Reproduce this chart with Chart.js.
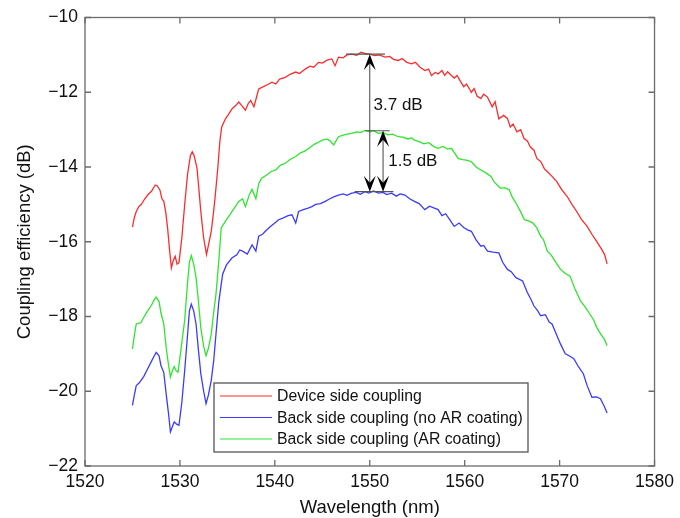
<!DOCTYPE html>
<html>
<head>
<meta charset="utf-8">
<script src="https://cdn.jsdelivr.net/npm/chart.js@4.4.1/dist/chart.umd.min.js"></script>
<style>
    body { margin: 0; background: #fff; }
    #wrap { width: 680px; height: 518px; }
</style>
</head>
<body>
<div id="wrap"><canvas id="coupling-chart" width="680" height="518"></canvas></div>
<script>
// data

var seriesNames = [
    'Device side coupling',
    'Back side coupling (no AR coating)',
    'Back side coupling (AR coating)'
];
var seriesColors = ['#ff2b2b', '#3b3bff', '#2ee62e'];

var redWl = [1525.0, 1525.2, 1525.4, 1525.7, 1525.9, 1526.3, 1526.6, 1527.0, 1527.4, 1527.6, 1527.9, 1528.1, 1528.3, 1528.5, 1528.7, 1528.9, 1529.1, 1529.3, 1529.5, 1529.7, 1529.9, 1530.2, 1530.5, 1530.8, 1531.1, 1531.3, 1531.5, 1531.8, 1532.0, 1532.2, 1532.5, 1532.8, 1533.0, 1533.3, 1533.5, 1533.7, 1534.0, 1534.2, 1534.4, 1534.8, 1535.1, 1535.5, 1535.9, 1536.2, 1536.5, 1536.9, 1537.2, 1537.45, 1537.8, 1538.1, 1538.3, 1538.8, 1539.2, 1539.7, 1540.1, 1540.5, 1541.1, 1541.6, 1542.2, 1542.6, 1543.2, 1543.7, 1544.1, 1544.6, 1545.0, 1545.5, 1546.0, 1546.35, 1546.7, 1547.2, 1547.6, 1548.1, 1548.6, 1549.1, 1549.6, 1550.0, 1550.5, 1551.0, 1551.6, 1552.1, 1552.5, 1553.0, 1553.4, 1553.9, 1554.4, 1554.8, 1555.3, 1555.8, 1556.2, 1556.5, 1556.9, 1557.2, 1557.6, 1557.9, 1558.2, 1558.6, 1558.9, 1559.2, 1559.6, 1559.9, 1560.2, 1560.7, 1561.0, 1561.3, 1561.7, 1562.0, 1562.4, 1562.9, 1563.2, 1563.6, 1564.1, 1564.5, 1564.8, 1565.1, 1565.5, 1565.9, 1566.25, 1566.6, 1566.9, 1567.3, 1567.6, 1568.0, 1568.4, 1568.7, 1569.2, 1569.7, 1570.2, 1570.8, 1571.3, 1571.8, 1572.3, 1572.9, 1573.4, 1573.9, 1574.45, 1574.75, 1575.0];
var redDb = [-15.61, -15.35, -15.19, -15.05, -15.01, -14.85, -14.75, -14.65, -14.48, -14.50, -14.62, -14.85, -14.92, -15.2, -15.63, -16.2, -16.7, -16.5, -16.39, -16.6, -16.56, -15.9, -15.01, -14.2, -13.7, -13.59, -13.7, -14.03, -14.6, -15.19, -15.9, -16.34, -16.1, -15.72, -15.3, -14.83, -14.0, -13.33, -12.93, -12.71, -12.6, -12.44, -12.35, -12.26, -12.35, -12.48, -12.3, -12.22, -12.39, -12.1, -11.91, -11.85, -11.8, -11.73, -11.78, -11.65, -11.6, -11.52, -11.46, -11.5, -11.38, -11.3, -11.33, -11.2, -11.22, -11.14, -11.11, -11.29, -11.06, -11.08, -11.0, -10.98, -11.01, -10.93, -10.97, -10.98, -11.02, -11.0, -11.06, -11.04, -11.12, -11.15, -11.1, -11.2, -11.24, -11.2, -11.33, -11.42, -11.38, -11.55, -11.47, -11.51, -11.42, -11.55, -11.45, -11.55, -11.62, -11.55, -11.73, -11.85, -11.78, -12.0, -11.9, -12.1, -12.17, -12.05, -12.13, -12.39, -12.25, -12.71, -12.62, -12.7, -12.93, -12.85, -13.06, -13.0, -13.24, -13.3, -13.46, -13.55, -13.77, -13.85, -14.05, -14.12, -14.25, -14.39, -14.6, -14.79, -15.0, -15.19, -15.4, -15.59, -15.8, -15.99, -16.21, -16.35, -16.59];

var blueWl = [1525.0, 1525.2, 1525.4, 1525.7, 1525.9, 1526.2, 1526.6, 1527.0, 1527.3, 1527.5, 1527.8, 1528.0, 1528.3, 1528.55, 1528.8, 1529.0, 1529.2, 1529.4, 1529.65, 1529.9, 1530.2, 1530.5, 1530.8, 1531.0, 1531.2, 1531.45, 1531.7, 1531.95, 1532.2, 1532.5, 1532.75, 1533.0, 1533.3, 1533.55, 1533.8, 1534.1, 1534.5, 1534.9, 1535.5, 1536.0, 1536.3, 1536.6, 1537.1, 1537.6, 1538.0, 1538.3, 1538.7, 1539.0, 1539.5, 1540.0, 1540.4, 1540.9, 1541.4, 1541.8, 1542.2, 1542.5, 1543.0, 1543.5, 1543.9, 1544.3, 1544.8, 1545.3, 1545.8, 1546.2, 1546.7, 1547.2, 1547.6, 1548.1, 1548.6, 1549.0, 1549.5, 1549.9, 1550.4, 1550.9, 1551.4, 1551.8, 1552.3, 1552.8, 1553.2, 1553.7, 1554.2, 1554.7, 1555.2, 1555.8, 1556.3, 1556.8, 1557.2, 1557.6, 1558.0, 1558.4, 1558.9, 1559.4, 1559.9, 1560.3, 1560.7, 1561.2, 1561.7, 1562.0, 1562.4, 1563.0, 1563.6, 1564.0, 1564.5, 1564.9, 1565.4, 1566.1, 1566.6, 1567.0, 1567.3, 1567.7, 1568.0, 1568.5, 1568.9, 1569.2, 1569.7, 1570.1, 1570.6, 1571.0, 1571.5, 1572.0, 1572.5, 1572.9, 1573.4, 1573.9, 1574.3, 1574.7, 1575.0];
var blueDb = [-20.38, -20.1, -19.85, -19.78, -19.71, -19.6, -19.4, -19.2, -19.05, -18.96, -19.05, -19.31, -19.5, -20.07, -20.6, -21.09, -20.95, -20.82, -20.88, -20.91, -20.3, -19.45, -18.5, -17.85, -17.67, -17.85, -18.2, -18.9, -19.53, -20.0, -20.33, -20.1, -19.71, -19.2, -18.47, -17.6, -16.87, -16.62, -16.43, -16.35, -16.22, -16.25, -16.33, -16.08, -16.25, -15.85, -15.8, -15.72, -15.6, -15.5, -15.41, -15.36, -15.3, -15.28, -15.5, -15.19, -15.14, -15.1, -15.06, -15.0, -14.98, -14.92, -14.85, -14.8, -14.75, -14.72, -14.76, -14.7, -14.68, -14.73, -14.66, -14.7, -14.64, -14.7, -14.68, -14.74, -14.7, -14.78, -14.72, -14.75, -14.85, -14.92, -14.98, -15.14, -15.05, -15.1, -15.14, -15.3, -15.25, -15.4, -15.59, -15.5, -15.62, -15.68, -15.72, -15.95, -16.12, -16.1, -16.25, -16.28, -16.3, -16.55, -16.74, -16.8, -16.96, -17.05, -17.36, -17.55, -17.72, -17.85, -17.98, -17.95, -18.15, -18.2, -18.5, -18.74, -19.0, -19.05, -19.13, -19.35, -19.53, -19.85, -20.16, -20.15, -20.2, -20.4, -20.58];

var greenWl = [1525.0, 1525.2, 1525.4, 1525.7, 1525.9, 1526.2, 1526.6, 1527.0, 1527.3, 1527.5, 1527.8, 1528.0, 1528.3, 1528.55, 1528.8, 1529.0, 1529.2, 1529.4, 1529.6, 1529.8, 1530.1, 1530.5, 1530.8, 1531.0, 1531.2, 1531.45, 1531.7, 1531.95, 1532.2, 1532.5, 1532.75, 1533.0, 1533.3, 1533.55, 1533.8, 1534.1, 1534.35, 1534.8, 1535.2, 1535.6, 1536.2, 1536.6, 1536.9, 1537.3, 1537.6, 1538.0, 1538.3, 1538.6, 1539.1, 1539.6, 1540.1, 1540.6, 1541.1, 1541.6, 1542.2, 1542.7, 1543.1, 1543.6, 1544.1, 1544.5, 1545.0, 1545.5, 1545.8, 1546.2, 1546.7, 1547.2, 1547.6, 1548.1, 1548.6, 1549.0, 1549.5, 1550.0, 1550.4, 1550.9, 1551.4, 1551.9, 1552.4, 1553.0, 1553.5, 1554.0, 1554.4, 1554.7, 1555.2, 1555.7, 1556.2, 1556.8, 1557.2, 1557.7, 1558.2, 1558.6, 1559.0, 1559.3, 1559.8, 1560.3, 1560.7, 1561.2, 1561.7, 1562.2, 1562.8, 1563.1, 1563.5, 1563.8, 1564.2, 1564.7, 1565.0, 1565.5, 1565.9, 1566.3, 1566.8, 1567.2, 1567.6, 1568.0, 1568.3, 1568.7, 1569.1, 1569.6, 1570.1, 1570.6, 1571.1, 1571.6, 1572.2, 1572.7, 1573.2, 1573.6, 1573.9, 1574.4, 1574.7, 1575.0];
var greenDb = [-18.87, -18.5, -18.2, -18.18, -18.16, -18.02, -17.85, -17.7, -17.55, -17.48, -17.6, -17.9, -18.2, -18.83, -19.3, -19.62, -19.45, -19.34, -19.45, -19.49, -18.9, -18.1, -17.1, -16.55, -16.37, -16.6, -16.96, -17.6, -18.3, -18.8, -19.05, -18.85, -18.47, -17.9, -17.4, -16.5, -15.63, -15.45, -15.3, -15.15, -14.92, -14.85, -15.06, -14.75, -14.6, -14.85, -14.45, -14.3, -14.22, -14.12, -14.08, -13.95, -13.9, -13.8, -13.72, -13.62, -13.58, -13.5, -13.4, -13.35, -13.28, -13.25, -13.3, -13.41, -13.19, -13.15, -13.12, -13.1, -13.06, -13.08, -13.02, -13.06, -13.03, -13.1, -13.08, -13.14, -13.12, -13.19, -13.2, -13.25, -13.22, -13.28, -13.32, -13.38, -13.35, -13.46, -13.5, -13.45, -13.52, -13.5, -13.65, -13.77, -13.8, -13.82, -13.86, -14.0, -14.08, -14.15, -14.26, -14.4, -14.5, -14.57, -14.55, -14.61, -14.8, -15.01, -15.2, -15.41, -15.45, -15.5, -15.63, -15.85, -15.94, -16.25, -16.35, -16.55, -16.74, -16.85, -16.92, -17.25, -17.58, -17.75, -17.94, -18.1, -18.29, -18.5, -18.6, -18.78];

// peak annotations
var capLevels = [-10.98, -13.03, -14.66];
var capStart = [1547.5, 1549.5, 1548.4];
var capEnd = [1551.6, 1552.1, 1552.5];
var arrowWl = [1550.0, 1551.4];
var arrowTop = [-10.98, -13.03];
var arrowBottom = [-14.66, -14.66];
var arrowLabels = ['3.7 dB', '1.5 dB'];
var labelWl = [1550.4, 1551.95];
var labelDb = [-12.34, -13.86];

var fontFamily = "'Liberation Sans', Arial, sans-serif";

function toPoints(xs, ys) {
    return xs.map(function (x, i) { return { x: x, y: ys[i] }; });
}

function minus(v) {
    return String(v).replace('-', '\u2212');
}

// matlab style box, inward ticks, legend and arrows
var matlabPlot = {
    id: 'matlabPlot',
    afterDatasetsDraw: function (chart) {
        var ctx = chart.ctx;
        var area = chart.chartArea;
        var xs = chart.scales.x;
        var ys = chart.scales.y;
        var tick = 6;

        ctx.save();
        ctx.strokeStyle = '#6b6b6b';
        ctx.lineWidth = 1.3;
        ctx.strokeRect(area.left, area.top, area.right - area.left, area.bottom - area.top);
        ctx.beginPath();
        xs.ticks.forEach(function (t) {
            var px = xs.getPixelForValue(t.value);
            ctx.moveTo(px, area.bottom); ctx.lineTo(px, area.bottom - tick);
            ctx.moveTo(px, area.top); ctx.lineTo(px, area.top + tick);
        });
        ys.ticks.forEach(function (t) {
            var py = ys.getPixelForValue(t.value);
            ctx.moveTo(area.left, py); ctx.lineTo(area.left + tick, py);
            ctx.moveTo(area.right, py); ctx.lineTo(area.right - tick, py);
        });
        ctx.stroke();

        // annotation caps
        ctx.strokeStyle = '#555';
        ctx.lineWidth = 1.2;
        ctx.beginPath();
        capLevels.forEach(function (lv, i) {
            var py = ys.getPixelForValue(lv);
            ctx.moveTo(xs.getPixelForValue(capStart[i]), py);
            ctx.lineTo(xs.getPixelForValue(capEnd[i]), py);
        });
        ctx.stroke();

        // double arrows
        arrowWl.forEach(function (wl, i) {
            var px = xs.getPixelForValue(wl);
            var pTop = ys.getPixelForValue(arrowTop[i]);
            var pBot = ys.getPixelForValue(arrowBottom[i]);
            ctx.strokeStyle = '#444';
            ctx.lineWidth = 1;
            ctx.beginPath();
            ctx.moveTo(px, pTop + 8);
            ctx.lineTo(px, pBot - 8);
            ctx.stroke();
            ctx.fillStyle = '#000';
            [[pTop, 1], [pBot, -1]].forEach(function (h) {
                var tip = h[0], d = h[1];
                ctx.beginPath();
                ctx.moveTo(px, tip);
                ctx.lineTo(px + 6, tip + d * 16);
                ctx.lineTo(px, tip + d * 9);
                ctx.lineTo(px - 6, tip + d * 16);
                ctx.closePath();
                ctx.fill();
            });
        });

        ctx.fillStyle = '#111';
        ctx.font = '17px ' + fontFamily;
        ctx.textBaseline = 'middle';
        ctx.textAlign = 'left';
        arrowLabels.forEach(function (txt, i) {
            ctx.fillText(txt, xs.getPixelForValue(labelWl[i]), ys.getPixelForValue(labelDb[i]));
        });

        // legend
        var lx = 214, ly = 383, lw = 314, lh = 69;
        ctx.fillStyle = '#fff';
        ctx.fillRect(lx, ly, lw, lh);
        ctx.strokeStyle = '#555';
        ctx.lineWidth = 1.3;
        ctx.strokeRect(lx, ly, lw, lh);
        ctx.font = '15.8px ' + fontFamily;
        chart.data.datasets.forEach(function (ds, i) {
            var rowY = ly + 13 + i * 21.5;
            ctx.strokeStyle = ds.borderColor;
            ctx.lineWidth = 1.2;
            ctx.beginPath();
            ctx.moveTo(lx + 6, rowY);
            ctx.lineTo(lx + 58, rowY);
            ctx.stroke();
            ctx.fillStyle = '#111';
            ctx.fillText(ds.label, lx + 63, rowY + 1);
        });
        ctx.restore();
    }
};

const ctx = document.getElementById('coupling-chart');

new Chart(ctx, {
    type: 'line',
    data: {
        datasets: [{
            label: seriesNames[0],
            data: toPoints(redWl, redDb),
            borderColor: seriesColors[0]
        }, {
            label: seriesNames[1],
            data: toPoints(blueWl, blueDb),
            borderColor: seriesColors[1]
        }, {
            label: seriesNames[2],
            data: toPoints(greenWl, greenDb),
            borderColor: seriesColors[2]
        }]
    },
    options: {
        responsive: false,
        animation: false,
        devicePixelRatio: 1,
        layout: { padding: { top: 15, right: 22, left: 0, bottom: 0 } },
        elements: {
            point: { radius: 0 },
            line: { borderWidth: 1.3, tension: 0 }
        },
        plugins: {
            legend: { display: false },
            tooltip: { enabled: false }
        },
        scales: {
            x: {
                type: 'linear',
                min: 1520,
                max: 1580,
                grid: { display: false, drawTicks: false },
                border: { display: false },
                ticks: {
                    stepSize: 10,
                    padding: 6,
                    color: '#111',
                    font: { family: fontFamily, size: 17.5 },
                    callback: function (v) { return v; }
                },
                title: {
                    display: true,
                    text: 'Wavelength (nm)',
                    color: '#111',
                    font: { family: fontFamily, size: 18.5, lineHeight: 1.1 },
                    padding: { top: 0, bottom: 0 }
                },
                afterFit: function (scale) { scale.height = 52; }
            },
            y: {
                min: -22,
                max: -10,
                grid: { display: false, drawTicks: false },
                border: { display: false },
                ticks: {
                    stepSize: 2,
                    padding: 7,
                    color: '#111',
                    font: { family: fontFamily, size: 17.5 },
                    callback: function (v) { return minus(v); }
                },
                title: {
                    display: true,
                    text: 'Coupling efficiency (dB)',
                    color: '#111',
                    font: { family: fontFamily, size: 18.5, lineHeight: 1.1 },
                    padding: { top: 15, bottom: 0 }
                },
                afterFit: function (scale) { scale.width = 85; }
            }
        }
    },
    plugins: [matlabPlot]
});
</script>
</body>
</html>
